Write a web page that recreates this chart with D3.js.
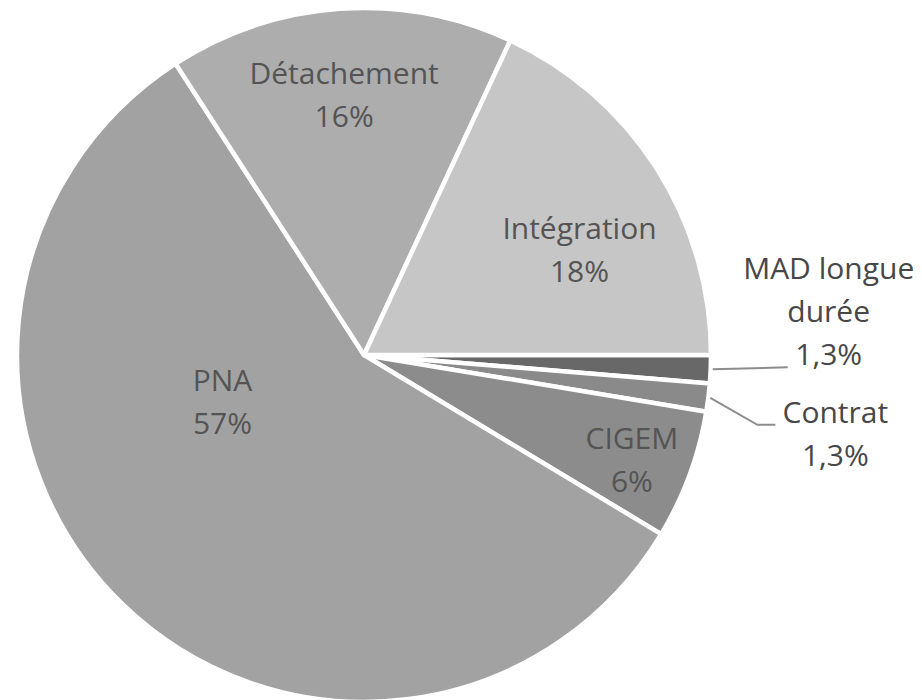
<!DOCTYPE html>
<html>
<head>
<meta charset="utf-8">
<script src="https://cdn.jsdelivr.net/npm/d3@7"></script>
<style>
  html, body { margin: 0; padding: 0; background: #fff; }
  svg text { font-family: "Open Sans", "Noto Sans", sans-serif; }
</style>
</head>
<body>
<div id="chart"></div>
<script>
// data
var categories = ["MAD longue durée", "Contrat", "CIGEM", "PNA", "Détachement", "Intégration"];
var shares = [1.3, 1.3, 6, 57, 16, 18];
var shareLabels = ["1,3%", "1,3%", "6%", "57%", "16%", "18%"];
var nameLines = [["MAD longue", "durée"], ["Contrat"], ["CIGEM"], ["PNA"], ["Détachement"], ["Intégration"]];

// styles
var sliceColours = ["#686868", "#8a8a8a", "#8c8c8c", "#a2a2a2", "#adadad", "#c6c6c6"];
var width = 922, height = 700,
    cx = 364, cy = 355, radius = 347,
    fontSize = 30, lineGap = 43;

var colour = d3.scaleOrdinal().domain(categories).range(sliceColours);

// inside labels: radius factor and angle nudge (degrees) from the slice middle
var inside = {
  "CIGEM": {r: 0.83, da: 1.3},
  "PNA": {r: 0.43, da: 27.5},
  "Détachement": {r: 0.75, da: -0.4},
  "Intégration": {r: 0.69, da: 6.7}
};

var svg = d3.select("#chart")
    .append("svg")
    .attr("width", width)
    .attr("height", height);

var g = svg.append("g")
    .attr("transform", "translate(" + cx + "," + cy + ")");

var pie = d3.pie()
    .sort(null)
    .value(function(d) { return d; })
    .startAngle(Math.PI / 2)
    .endAngle(Math.PI / 2 + 2 * Math.PI);

var arc = d3.arc().innerRadius(0).outerRadius(radius);

var arcs = pie(shares);

// draw slices
g.selectAll("path")
    .data(arcs)
    .enter()
    .append("path")
    .attr("d", arc)
    .attr("fill", function(d, i) { return colour(categories[i]); })
    .attr("stroke", "#fff")
    .attr("stroke-width", 4.5)
    .attr("stroke-linejoin", "round");

function polar(angle, r) {
  return [r * Math.sin(angle), -r * Math.cos(angle)];
}

// labels inside the slices
arcs.forEach(function(d, i) {
  var cat = categories[i];
  var opt = inside[cat];
  if (!opt) return;
  var mid = (d.startAngle + d.endAngle) / 2 + opt.da * Math.PI / 180;
  var p = polar(mid, opt.r * radius);
  var lines = nameLines[i].concat([shareLabels[i]]);
  var t = g.append("text")
      .attr("text-anchor", "middle")
      .attr("font-size", fontSize)
      .attr("fill", "#545454");
  lines.forEach(function(line, k) {
    t.append("tspan")
        .attr("x", p[0])
        .attr("y", p[1] + 10 + (k - (lines.length - 1) / 2) * lineGap)
        .text(line);
  });
});

// outside labels with leader lines
function outsideLabel(i, leader, textDx, firstBaselineDy) {
  var d = arcs[i];
  var mid = (d.startAngle + d.endAngle) / 2;
  var s = polar(mid, radius + 2);
  var pts = [s];
  leader.forEach(function(o) {
    var last = pts[pts.length - 1];
    pts.push([last[0] + o[0], last[1] + o[1]]);
  });
  g.append("path")
      .attr("d", d3.line()(pts))
      .attr("fill", "none")
      .attr("stroke", "#8c8c8c")
      .attr("stroke-width", 2);
  var end = pts[pts.length - 1];
  var lines = nameLines[i].concat([shareLabels[i]]);
  var t = g.append("text")
      .attr("text-anchor", "middle")
      .attr("font-size", fontSize)
      .attr("fill", "#474747");
  lines.forEach(function(line, k) {
    t.append("tspan")
        .attr("x", end[0] + textDx)
        .attr("y", end[1] + firstBaselineDy + k * lineGap)
        .text(line);
  });
}

outsideLabel(0, [[75, -2]], 41, -3 - 2 * lineGap + 1);
outsideLabel(1, [[47, 27], [18, 0]], 60, -2);
</script>
</body>
</html>
